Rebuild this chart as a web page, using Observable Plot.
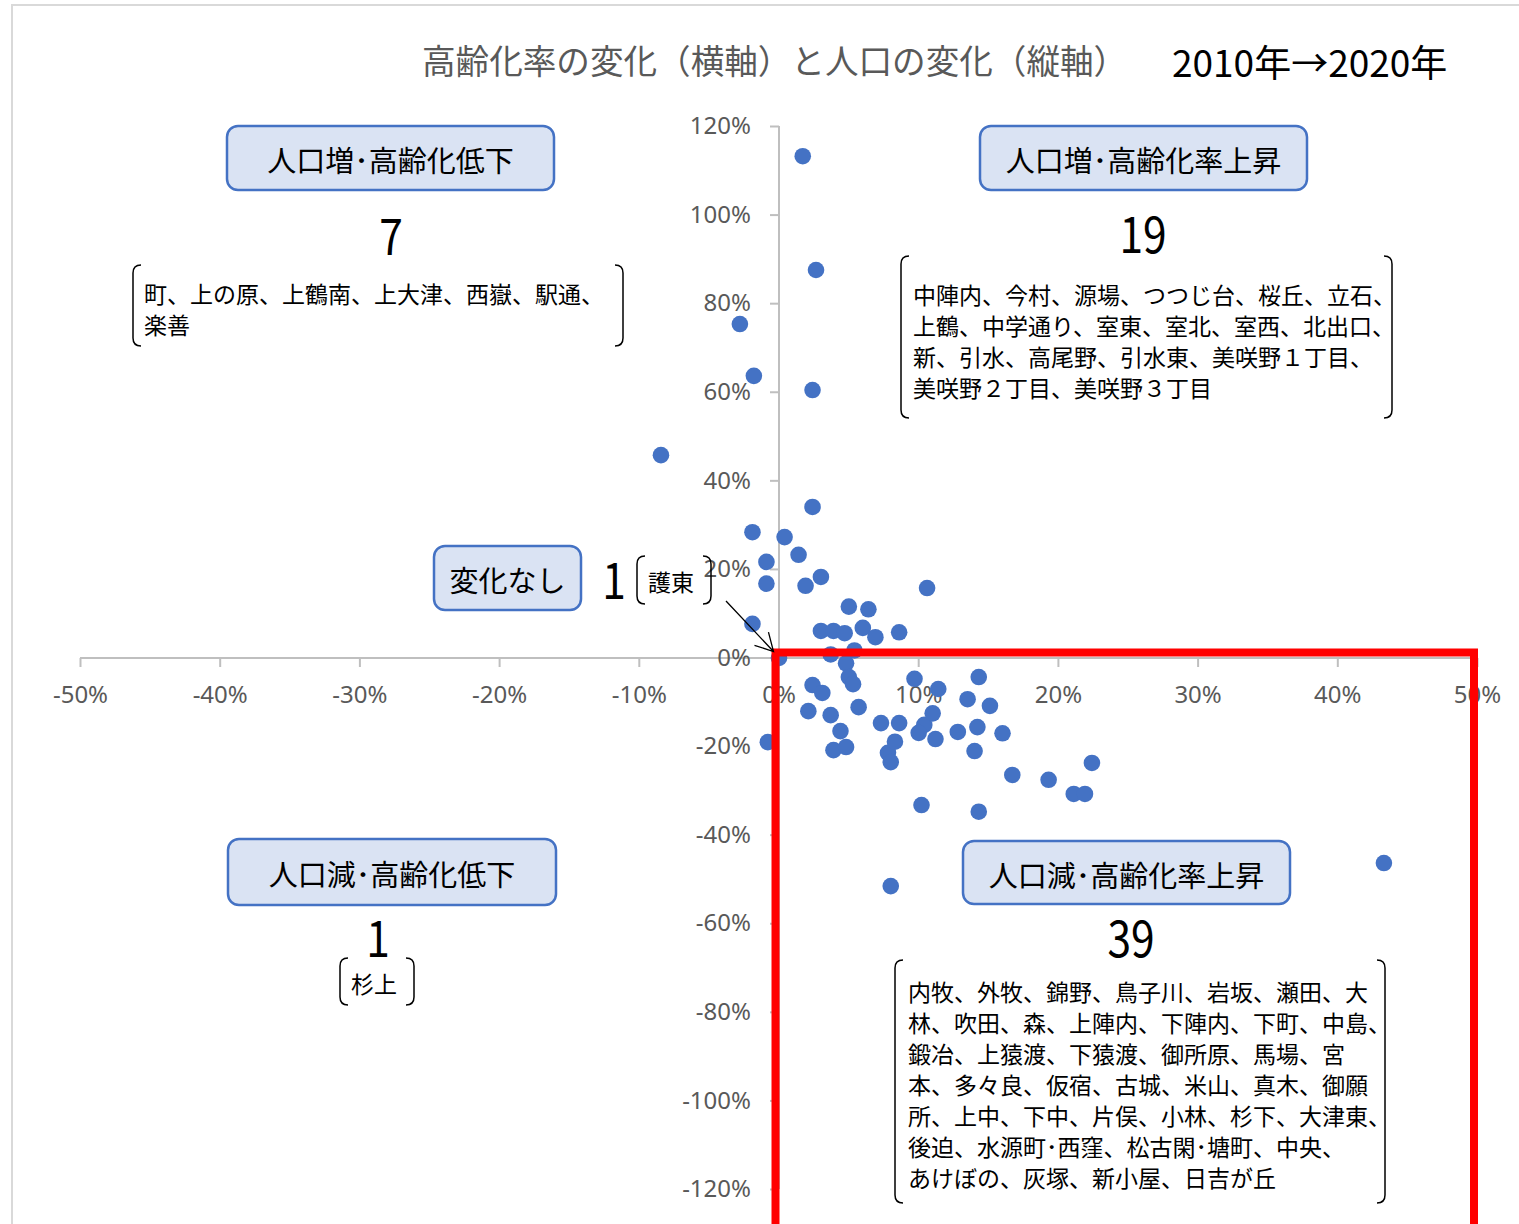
<!DOCTYPE html>
<html>
<head>
<meta charset="utf-8">
<script src="https://cdn.jsdelivr.net/npm/d3@7"></script>
<script src="https://cdn.jsdelivr.net/npm/@observablehq/plot@0.6"></script>
<style>
  html, body { margin: 0; padding: 0; background: #fff; }
  #wrap { position: relative; width: 1519px; height: 1224px; overflow: hidden; font-family: "Noto Sans CJK JP", sans-serif; }
  #frame { position: absolute; left: 11px; top: 4px; width: 1530px; height: 1260px; border: 2px solid #d9d9d9; box-sizing: border-box; }
  #plot { position: absolute; left: 0; top: 0; }
  #overlay { position: absolute; left: 0; top: 0; pointer-events: none; }
</style>
</head>
<body>
<div id="wrap">
  <div id="frame"></div>
  <div id="plot"></div>
</div>
<script>
// ---- data ----
const xTicks = [-0.5, -0.4, -0.3, -0.2, -0.1, 0, 0.1, 0.2, 0.3, 0.4, 0.5];
const yTicks = [-1.2, -1.0, -0.8, -0.6, -0.4, -0.2, 0, 0.2, 0.4, 0.6, 0.8, 1.0, 1.2];

// change in aging rate (x) and change in population (y), 2010 -> 2020
const agingChange = [
  0.017, 0.0265, -0.028, -0.018, 0.024, -0.0845, 0.024, -0.019, 0.004, 0.014,
  -0.009, -0.009, 0.019, 0.030, 0.106, -0.019, 0.050, 0.064, 0.030, 0.039,
  0.047, 0.060, 0.069, 0.086, 0.000, 0.037, 0.054, 0.048, 0.050, 0.053,
  0.024, 0.031, 0.021, 0.037, 0.044, 0.039, 0.048, 0.057, -0.008, 0.073,
  0.086, 0.078, 0.080, 0.083, 0.097, 0.114, 0.104, 0.100, 0.110, 0.112,
  0.135, 0.143, 0.151, 0.128, 0.142, 0.140, 0.160, 0.102, 0.143, 0.167,
  0.193, 0.211, 0.219, 0.224, 0.080, 0.433
];
const populationChange = [
  1.133, 0.876, 0.754, 0.637, 0.605, 0.458, 0.341, 0.284, 0.273, 0.233,
  0.217, 0.168, 0.163, 0.183, 0.158, 0.077, 0.116, 0.110, 0.061, 0.061,
  0.056, 0.068, 0.047, 0.058, 0.000, 0.008, 0.017, -0.012, -0.043, -0.059,
  -0.061, -0.079, -0.120, -0.129, -0.165, -0.208, -0.201, -0.111, -0.190, -0.147,
  -0.147, -0.214, -0.235, -0.189, -0.047, -0.070, -0.151, -0.169, -0.125, -0.183,
  -0.093, -0.043, -0.108, -0.167, -0.156, -0.210, -0.170, -0.332, -0.347, -0.264,
  -0.275, -0.307, -0.307, -0.237, -0.515, -0.463
];

const titleText = "高齢化率の変化（横軸）と人口の変化（縦軸）";
const periodText = "2010年→2020年";

const groupTitles = ["人口増･高齢化低下", "人口増･高齢化率上昇", "変化なし", "人口減･高齢化低下", "人口減･高齢化率上昇"];
const groupCounts = [7, 19, 1, 1, 39];
const groupNames = [
  ["町、上の原、上鶴南、上大津、西嶽、駅通、", "楽善"],
  ["中陣内、今村、源場、つつじ台、桜丘、立石、", "上鶴、中学通り、室東、室北、室西、北出口、", "新、引水、高尾野、引水東、美咲野１丁目、", "美咲野２丁目、美咲野３丁目"],
  ["護東"],
  ["杉上"],
  ["内牧、外牧、錦野、鳥子川、岩坂、瀬田、大", "林、吹田、森、上陣内、下陣内、下町、中島、", "鍛冶、上猿渡、下猿渡、御所原、馬場、宮", "本、多々良、仮宿、古城、米山、真木、御願", "所、上中、下中、片俣、小林、杉下、大津東、", "後迫、水源町･西窪、松古閑･塘町、中央、", "あけぼの、灰塚、新小屋、日吉が丘"]
];

// highlighted quadrant (increase in aging rate, decrease in population)
const highlight = [{x1: 0, x2: 0.5, y1: -1.4, y2: 0}];

// ---- chart ----
const points = agingChange.map((x, i) => ({x, y: populationChange[i]}));
const pct = d => `${Math.round(d * 100)}%`;
const axisColor = "#bfbfbf";
const labelColor = "#595959";
const tickDown = {draw(ctx) { ctx.moveTo(0, 0); ctx.lineTo(0, 9); }};
const tickLeft = {draw(ctx) { ctx.moveTo(0, 0); ctx.lineTo(-9, 0); }};

const chart = Plot.plot({
  width: 1519,
  height: 1224,
  marginLeft: 80,
  marginRight: 42,
  marginTop: 126,
  marginBottom: 35,
  x: {domain: [d3.min(xTicks), d3.max(xTicks)], axis: null},
  y: {domain: [d3.min(yTicks), d3.max(yTicks)], axis: null},
  style: {background: "transparent", fontFamily: "'Noto Sans', 'Noto Sans CJK JP', sans-serif"},
  marks: [
    Plot.ruleY([0], {x1: d3.min(xTicks), x2: d3.max(xTicks), stroke: axisColor, strokeWidth: 2}),
    Plot.ruleX([0], {y1: d3.min(yTicks), y2: d3.max(yTicks), stroke: axisColor, strokeWidth: 2}),
    Plot.dot(xTicks, {x: d => d, y: 0, symbol: tickDown, stroke: axisColor, strokeWidth: 2, fill: "none"}),
    Plot.dot(yTicks, {x: 0, y: d => d, symbol: tickLeft, stroke: axisColor, strokeWidth: 2, fill: "none"}),
    Plot.text(xTicks, {x: d => d, y: 0, dy: 37, text: pct, fill: labelColor, fontSize: 24, lineAnchor: "middle"}),
    Plot.text(yTicks, {x: 0, y: d => d, dx: -28, text: pct, fill: labelColor, fontSize: 24, textAnchor: "end", lineAnchor: "middle"}),
    Plot.dot(points, {x: "x", y: "y", r: 8.3, fill: "#4472C4", stroke: "none"}),
    Plot.rect(highlight, {x1: "x1", x2: "x2", y1: "y1", y2: "y2", fill: "none", stroke: "#ff0000", strokeWidth: 8, insetLeft: -3, insetTop: -5, insetRight: 3})
  ]
});
document.getElementById("plot").appendChild(chart);

// ---- annotations (overlay) ----
const sx = chart.scale("x"), sy = chart.scale("y");
const ov = d3.select("#wrap").append("svg")
  .attr("id", "overlay").attr("width", 1519).attr("height", 1224)
  .style("font-family", "'Noto Sans CJK JP', sans-serif");

// titles
ov.append("text").attr("x", 422).attr("y", 59).attr("dominant-baseline", "central")
  .attr("font-size", 33.6).attr("fill", labelColor).text(titleText);
ov.append("text").attr("x", 1172).attr("y", 61).attr("dominant-baseline", "central")
  .attr("font-size", 37).attr("fill", "#000").text(periodText);

// layout of each group annotation (pixel boxes)
const layout = [
  {box: [227, 126, 327, 64], num: [391, 233], br: [133, 265, 623, 346], tx: 144, ty: 293},
  {box: [980, 126, 327, 64], num: [1143, 231], br: [901, 256, 1392, 418], tx: 913, ty: 294},
  {box: [434, 546, 147, 64], num: [614, 577], br: [637, 556, 711, 604], tx: 648, ty: 581},
  {box: [228, 839, 328, 66], num: [378, 935], br: [340, 958, 414, 1005], tx: 351, ty: 983},
  {box: [963, 841, 327, 63], num: [1131, 935], br: [895, 960, 1385, 1203], tx: 908, ty: 991}
];

function bracket(g, x1, y1, x2, y2) {
  const c = 8;
  g.append("path").attr("fill", "none").attr("stroke", "#000").attr("stroke-width", 1.5)
    .attr("d", `M${x1 + c},${y1} Q${x1},${y1} ${x1},${y1 + c} L${x1},${y2 - c} Q${x1},${y2} ${x1 + c},${y2}`);
  g.append("path").attr("fill", "none").attr("stroke", "#000").attr("stroke-width", 1.5)
    .attr("d", `M${x2 - c},${y1} Q${x2},${y1} ${x2},${y1 + c} L${x2},${y2 - c} Q${x2},${y2} ${x2 - c},${y2}`);
}

groupTitles.forEach((title, i) => {
  const L = layout[i];
  const [bx, by, bw, bh] = L.box;
  ov.append("rect").attr("x", bx).attr("y", by).attr("width", bw).attr("height", bh)
    .attr("rx", 11).attr("fill", "#DAE3F3").attr("stroke", "#4472C4").attr("stroke-width", 2.5);
  ov.append("text").attr("x", bx + bw / 2).attr("y", by + bh / 2 + 1)
    .attr("text-anchor", "middle").attr("dominant-baseline", "central")
    .attr("font-size", 29).attr("fill", "#000").text(title);
  ov.append("text")
    .attr("transform", `translate(${L.num[0]},${L.num[1]}) scale(0.85,1)`)
    .attr("text-anchor", "middle").attr("dominant-baseline", "central")
    .attr("font-size", 50).attr("fill", "#000").text(groupCounts[i]);
  const [x1, y1, x2, y2] = L.br;
  bracket(ov, x1, y1, x2, y2);
  groupNames[i].forEach((line, j) => {
    ov.append("text").attr("x", L.tx).attr("y", L.ty + j * 31)
      .attr("dominant-baseline", "central").attr("font-size", 23).attr("fill", "#000").text(line);
  });
});

// arrow from the "no change" label to its point at the origin
const tipX = sx.apply(0) - 5, tipY = sy.apply(0) - 6;
const startX = 726, startY = 601;
const ang = Math.atan2(tipY - startY, tipX - startX);
const wing = 20, spread = 0.5;
ov.append("path").attr("fill", "none").attr("stroke", "#000").attr("stroke-width", 1.3)
  .attr("d", `M${startX},${startY} L${tipX},${tipY}
    M${tipX - wing * Math.cos(ang - spread)},${tipY - wing * Math.sin(ang - spread)} L${tipX},${tipY}
    L${tipX - wing * Math.cos(ang + spread)},${tipY - wing * Math.sin(ang + spread)}`);
</script>
</body>
</html>
